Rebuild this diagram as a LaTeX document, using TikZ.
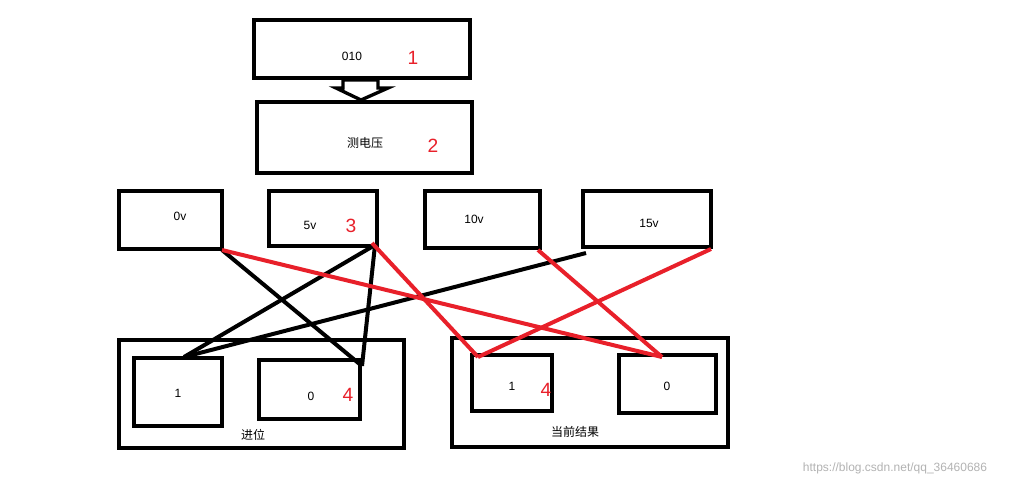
\documentclass[tikz,border=0pt]{standalone}
\usepackage{fontspec}
\setmainfont{Liberation Sans}
\newfontfamily\cjk{Noto Sans CJK SC}
\definecolor{myred}{RGB}{232,32,42}
\begin{document}
\begin{tikzpicture}[x=0.75pt,y=-0.75pt,
  box/.style={draw,line width=3pt},
  lbl/.style={font=\small},
  num/.style={text=myred,font=\Large},
  bl/.style={line width=3pt,black},
  rd/.style={line width=3pt,myred}]
\useasboundingbox (0,0) rectangle (1030,487);
\draw[box] (254,20) rectangle (470,78);
\node[lbl] (t1) at (352,56) {010};
\node[num] (n1) at (413,58) {1};
\draw[line width=2.5pt,fill=white] (343,80)--(378,80)--(378,88)--(388,88)--(361,100)--(336,88)--(343,88)--cycle;
\draw[box] (257,102) rectangle (472,173);
\node[lbl] (t2) at (365,143) {\cjk 测电压};
\node[num] (n2) at (433,146) {2};
\draw[box] (119,191) rectangle (222,249);
\node[lbl] at (180,216) {0v};
\draw[box] (269,191) rectangle (377,246);
\node[lbl] at (310,225) {5v};
\node[num] at (351,226) {3};
\draw[box] (425,191) rectangle (540,248);
\node[lbl] at (474,219) {10v};
\draw[box] (583,191) rectangle (711,247);
\node[lbl] at (649,223) {15v};
\draw[box] (119,340) rectangle (404,448);
\draw[box] (134,358) rectangle (222,426);
\node[lbl] at (178,393) {1};
\draw[box] (259,360) rectangle (360,419);
\node[lbl] at (311,396) {0};
\node[num] at (348,395) {4};
\node[lbl] at (253,435) {\cjk 进位};
\draw[box] (452,338) rectangle (728,447);
\draw[box] (472,355) rectangle (552,411);
\node[lbl] at (512,386) {1};
\node[num] at (546,390) {4};
\draw[box] (619,355) rectangle (716,413);
\node[lbl] at (667,386) {0};
\node[lbl] at (575,432) {\cjk 当前结果};
\coordinate (a0) at (222,250); \coordinate (a5) at (375,245);
\coordinate (a10) at (538,250); \coordinate (a15) at (711,249);
\coordinate (a15b) at (586,253);
\coordinate (c1) at (184,357); \coordinate (c0) at (362,366);
\coordinate (r1) at (478,357); \coordinate (r0) at (662,357);
\draw[bl] (a0)--(c0); \draw[bl] (a5)--(c0); \draw[bl] (a5)--(c1); \draw[bl] (a15b)--(c1);
\draw[rd] (a0)--(r0); \draw[rd] (372,243)--(r1); \draw[rd] (a10)--(r0); \draw[rd] (a15)--(r1);
\node[text=gray!60,font=\small] at (895,468) {https://blog.csdn.net/qq\_36460686};
\end{tikzpicture}
\end{document}
